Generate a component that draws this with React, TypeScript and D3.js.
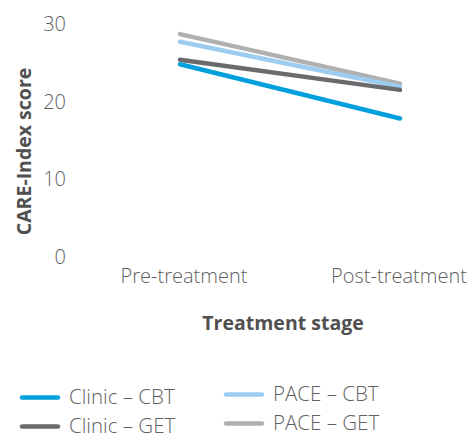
import React from "react";
import * as d3 from "d3";

const stages = ["Pre-treatment", "Post-treatment"];
const seriesNames = ["Clinic – CBT", "Clinic – GET", "PACE – CBT", "PACE – GET"];
const clinicCBT = [24.8, 17.8];
const clinicGET = [25.4, 21.5];
const paceCBT = [27.7, 21.9];
const paceGET = [28.7, 22.3];
const yTicks = [0, 10, 20, 30];
const colors = ["#00a0dc", "#6b6b6d", "#9ccdf0", "#b0b0b0"];

const W = 472;
const H = 435;
const FONT = "'Open Sans', 'Noto Sans', sans-serif";

export default function App() {
  const x = d3.scalePoint<string>().domain(stages).range([180, 400]);
  const y = d3.scaleLinear().domain([0, 30]).range([256.5, 24]);
  const seriesValues = [clinicCBT, clinicGET, paceCBT, paceGET];
  const line = d3
    .line<number>()
    .x((_, i) => x(stages[i]) as number)
    .y((d) => y(d));
  // draw order: back to front
  const order = [3, 2, 1, 0];
  const legendPos = [
    { x: 20, y: 397.5 },
    { x: 20, y: 426.5 },
    { x: 224, y: 394.5 },
    { x: 224, y: 423.5 },
  ];
  return (
    <svg
      width={W}
      height={H}
      style={{ position: "absolute", left: 0, top: 0, fontFamily: FONT }}
    >
      {yTicks.map((t) => (
        <text
          key={t}
          x={66}
          y={y(t)}
          dy="0.35em"
          textAnchor="end"
          fontSize={20}
          fontWeight={300}
          fill="#5f5f5f"
        >
          {t}
        </text>
      ))}
      {stages.map((s) => (
        <text
          key={s}
          x={(x(s) as number) + (s === "Pre-treatment" ? 4 : -1)}
          y={276}
          dy="0.35em"
          textAnchor="middle"
          fontSize={20}
          fontWeight={300}
          fill="#5f5f5f"
        >
          {s}
        </text>
      ))}
      <text
        transform={`translate(24,151.5) rotate(-90)`}
        textAnchor="middle"
        dy="0.35em"
        fontSize={19.5}
        fontWeight="bold"
        fill="#505050"
      >
        CARE-Index score
      </text>
      <text
        x={283}
        y={323}
        dy="0.35em"
        textAnchor="middle"
        fontSize={19.5}
        fontWeight="bold"
        fill="#505050"
      >
        Treatment stage
      </text>
      {order.map((i) => (
        <path
          key={i}
          d={line(seriesValues[i]) || ""}
          fill="none"
          stroke={colors[i]}
          strokeWidth={4.5}
          strokeLinecap="round"
        />
      ))}
      {seriesNames.map((n, i) => (
        <g key={n} transform={`translate(${legendPos[i].x},${legendPos[i].y})`}>
          <line
            x1={2}
            x2={38}
            y1={0}
            y2={0}
            stroke={colors[i]}
            strokeWidth={4.5}
            strokeLinecap="round"
          />
          <text x={49} y={0} dy="0.3em" fontSize={20.5} fontWeight={300} fill="#5f5f5f">
            {n}
          </text>
        </g>
      ))}
    </svg>
  );
}
